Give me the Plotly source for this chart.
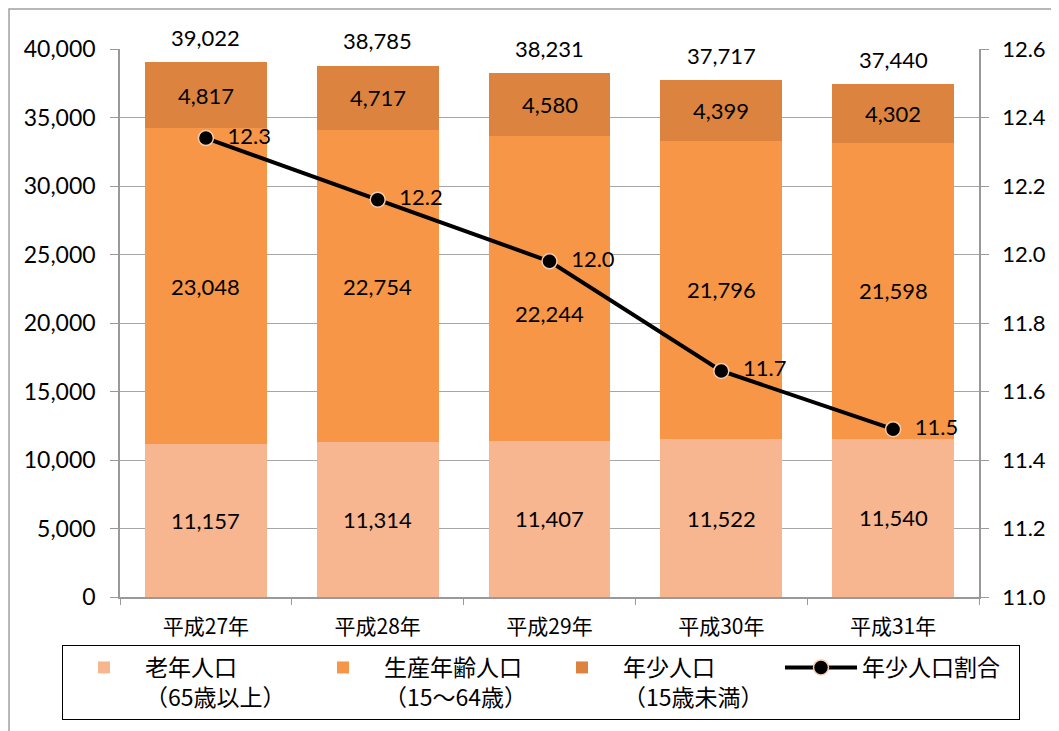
import plotly.graph_objects as go

categories = ["平成27年", "平成28年", "平成29年", "平成30年", "平成31年"]
elderly = [11157, 11314, 11407, 11522, 11540]
working = [23048, 22754, 22244, 21796, 21598]
youth = [4817, 4717, 4580, 4399, 4302]
totals = [39022, 38785, 38231, 37717, 37440]
youth_ratio = [12.34, 12.16, 11.98, 11.66, 11.49]

names = ["老年人口<br>（65歳以上）", "生産年齢人口<br>（15～64歳）", "年少人口<br>（15歳未満）", "年少人口割合"]
colors = ["#F7B690", "#F79646", "#DC843F"]

FONT = "Lato, 'Noto Sans CJK JP', sans-serif"
JFONT = "'Noto Sans CJK JP', sans-serif"
NB = "\u00a0"

fig = go.Figure()
for vals, nm, col in zip([elderly, working, youth], names[:3], colors):
    fig.add_trace(go.Bar(x=categories, y=vals, name=nm, marker=dict(color=col, line=dict(width=0)),
                         hoverinfo="y"))

fig.add_trace(go.Scatter(x=categories, y=youth_ratio, name=names[3], yaxis="y2",
                         mode="lines+markers+text",
                         line=dict(color="black", width=4),
                         marker=dict(color="black", size=15, line=dict(color="#F8CBAD", width=1.5)),
                         text=[NB * 2 + f"{v:.1f}" for v in youth_ratio], textposition="middle right",
                         textfont=dict(size=22, color="black", family=FONT)))

annotations = []
mid_shift = {2: -25}
lab_font = dict(size=22, family=FONT, color="black")
for i, c in enumerate(categories):
    annotations.append(dict(x=c, y=elderly[i] / 2, text=f"{elderly[i]:,}", showarrow=False, font=lab_font))
    annotations.append(dict(x=c, y=elderly[i] + working[i] / 2, text=f"{working[i]:,}", showarrow=False,
                            yshift=mid_shift.get(i, 0), font=lab_font))
    annotations.append(dict(x=c, y=elderly[i] + working[i] + youth[i] / 2, text=f"{youth[i]:,}",
                            showarrow=False, font=lab_font))
    annotations.append(dict(x=c, y=totals[i], text=f"{totals[i]:,}", showarrow=False, yshift=25,
                            bgcolor="white", borderpad=5, font=lab_font))

# page body has an 8px margin; offsets below compensate
fig.update_layout(
    barmode="stack",
    bargap=0.29,
    width=1059, height=731,
    margin=dict(l=112, r=88, t=41, b=142, autoexpand=False),
    plot_bgcolor="white", paper_bgcolor="white",
    font=dict(family=FONT, size=19, color="black"),
    annotations=annotations,
    xaxis=dict(showline=True, linecolor="#999999", linewidth=1.5,
               ticks="outside", ticklen=6, tickcolor="#999999", tickson="boundaries",
               tickfont=dict(family=JFONT, size=21), ticklabelstandoff=10, automargin=False),
    yaxis=dict(range=[0, 40000], dtick=5000, tickformat=",", showgrid=True, gridcolor="#A6A6A6",
               gridwidth=1, showline=True, linecolor="#999999", linewidth=1.5,
               ticks="outside", ticklen=8, tickcolor="#999999", zeroline=False,
               tickfont=dict(size=23), ticklabelstandoff=10, automargin=False),
    yaxis2=dict(range=[11.0, 12.6], dtick=0.2, tickformat=".1f", overlaying="y", side="right",
                showgrid=False, showline=True, linecolor="#999999", linewidth=1.5,
                ticks="outside", ticklen=8, tickcolor="#999999", zeroline=False,
                tickfont=dict(size=22), ticklabelstandoff=9, automargin=False),
    legend=dict(orientation="h", x=(62 - 120) / 859, xanchor="left", y=(597 - 645) / 548, yanchor="top",
                bordercolor="black", borderwidth=1, valign="top",
                font=dict(family=JFONT, size=23), entrywidth=152, itemwidth=72,
                traceorder="normal"),
    shapes=[dict(type="rect", xref="paper", yref="paper", x0=-0.1292, x1=1.15, y0=-0.30, y1=1.073,
                 line=dict(color="#A0A0A0", width=1.5), fillcolor="rgba(0,0,0,0)", layer="below")],
    showlegend=True,
)

fig.write_html("out.html")
